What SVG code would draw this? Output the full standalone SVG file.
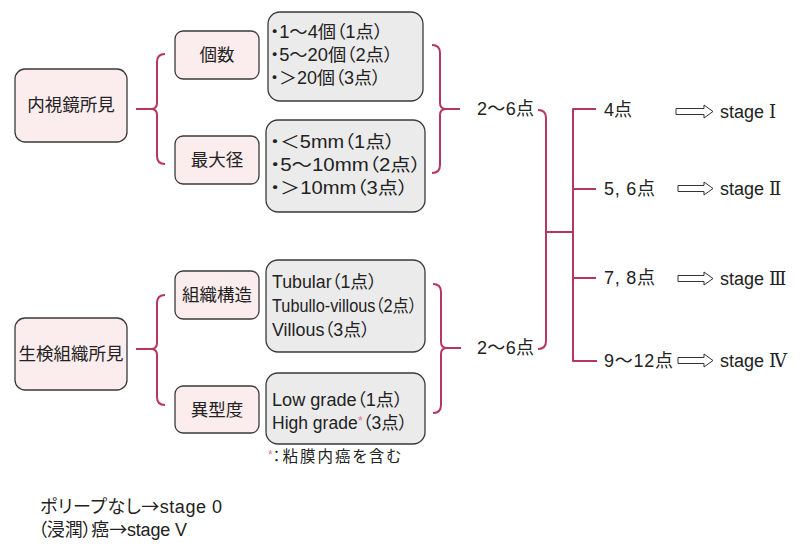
<svg xmlns="http://www.w3.org/2000/svg" width="800" height="551" viewBox="0 0 800 551">
<style>
text{font-family:"Liberation Sans","Noto Sans CJK JP",sans-serif;fill:#222;font-feature-settings:"palt";}
.t17{font-size:17.5px;font-family:"Noto Sans CJK JP",sans-serif;}
.t18{font-size:18px;}
.g{font-size:17.5px;}
.c{text-anchor:middle;}
.pink{fill:#fbecee;stroke:#3a3a3a;stroke-width:1.3;}
.gray{fill:#ebebeb;stroke:#3a3a3a;stroke-width:1.3;}
.br{fill:none;stroke:#b5375e;stroke-width:2;stroke-linejoin:round;}
.arr{fill:#fff;stroke:#333;stroke-width:1;}
.ast{fill:#e07a9a;}
.rn{font-family:"DejaVu Serif","Noto Sans CJK JP",serif;}
.ja{font-family:"Noto Sans CJK JP",sans-serif;}
</style>
<rect width="800" height="551" fill="#fff"/>

<g id="connectors">
  <path class="br" d="M136,109 L151,109 M165,54 Q157,54 157,62 L157,103 Q157,109 151,109 Q157,109 157,115 L157,156 Q157,164 165,164"/>
  <path class="br" d="M136,349 L151,349 M165,295 Q157,295 157,303 L157,343 Q157,349 151,349 Q157,349 157,355 L157,397 Q157,405 165,405"/>
  <path class="br" d="M460,109 L446,109 M432,45 Q440,45 440,53 L440,103 Q440,109 446,109 Q440,109 440,115 L440,165 Q440,173 432,173"/>
  <path class="br" d="M461,348 L447,348 M433,284 Q441,284 441,292 L441,342 Q441,348 447,348 Q441,348 441,354 L441,405 Q441,413 433,413"/>
  <path class="br" d="M538,110 Q546,110 546,118 L546,341 Q546,349 538,349 M546,232 L573,232 M596,109 L573,109 L573,361 L597,361 M573,189 L596,189 M573,278 L596,278"/>
</g>

<g id="endoscopy">
  <rect class="pink" x="15" y="69" width="112" height="73" rx="10"/>
  <text class="t17 c" x="71" y="111">内視鏡所見</text>
</g>
<g id="count">
  <rect class="pink" x="175" y="31" width="84" height="48" rx="8"/>
  <text class="t17 c" x="217" y="61">個数</text>
</g>
<g id="maxsize">
  <rect class="pink" x="175" y="136" width="84" height="48" rx="8"/>
  <text class="t17 c" x="217" y="166">最大径</text>
</g>
<g id="count-options">
  <rect class="gray" x="268" y="12" width="155" height="89" rx="12"/>
  <text class="g"><tspan x="270" y="38" textLength="113" lengthAdjust="spacingAndGlyphs">・1〜4個（1点）</tspan><tspan x="270" y="61" textLength="123" lengthAdjust="spacingAndGlyphs">・5〜20個（2点）</tspan><tspan x="270" y="84" textLength="111" lengthAdjust="spacingAndGlyphs">・＞20個（3点）</tspan></text>
</g>
<g id="size-options">
  <rect class="gray" x="266" y="120" width="159" height="92" rx="12"/>
  <text class="g"><tspan x="270" y="148" textLength="125" lengthAdjust="spacingAndGlyphs">・＜5mm（1点）</tspan><tspan x="270" y="171" textLength="151" lengthAdjust="spacingAndGlyphs">・5〜10mm（2点）</tspan><tspan x="270" y="194" textLength="138" lengthAdjust="spacingAndGlyphs">・＞10mm（3点）</tspan></text>
</g>

<g id="biopsy">
  <rect class="pink" x="15" y="318" width="112" height="72" rx="10"/>
  <text class="t17 c" x="71" y="360">生検組織所見</text>
</g>
<g id="structure">
  <rect class="pink" x="175" y="271" width="84" height="48" rx="8"/>
  <text class="t17 c" x="217" y="301">組織構造</text>
</g>
<g id="atypia">
  <rect class="pink" x="175" y="386" width="84" height="47" rx="8"/>
  <text class="t17 c" x="217" y="416">異型度</text>
</g>
<g id="structure-options">
  <rect class="gray" x="266" y="260" width="159" height="92" rx="12"/>
  <text class="g"><tspan x="272" y="288" textLength="105" lengthAdjust="spacingAndGlyphs">Tubular（1点）</tspan><tspan x="272" y="312" textLength="145" lengthAdjust="spacingAndGlyphs">Tubullo-villous（2点）</tspan><tspan x="272" y="336" textLength="98" lengthAdjust="spacingAndGlyphs">Villous（3点）</tspan></text>
</g>
<g id="atypia-options">
  <rect class="gray" x="266" y="373" width="159" height="71" rx="12"/>
  <text class="g"><tspan x="272" y="406" textLength="131" lengthAdjust="spacingAndGlyphs">Low grade（1点）</tspan><tspan x="272" y="429">High grade<tspan class="ast" font-size="13" baseline-shift="4">*</tspan>（3点）</tspan></text>
</g>
<g id="note">
  <text font-size="15.5" x="268" y="462" font-family="Noto Sans CJK JP,sans-serif"><tspan class="ast" font-size="12" baseline-shift="3">*</tspan><tspan letter-spacing="2">：粘膜内癌を含む</tspan></text>
</g>

<g id="sum1"><text class="t18" x="477" y="115" textLength="57">2〜6点</text></g>
<g id="sum2"><text class="t18" x="477" y="354" textLength="57">2〜6点</text></g>

<g id="score4"><text class="t18" x="604" y="116">4点</text></g>
<g id="score56"><text class="t18" x="604" y="195" textLength="51">5, 6点</text></g>
<g id="score78"><text class="t18" x="604" y="284" textLength="51">7, 8点</text></g>
<g id="score912"><text class="t18" x="604" y="367" textLength="69">9〜12点</text></g>

<g id="arrows">
  <polygon class="arr" points="676,108.5 704,108.5 704,105 713,111.5 704,118 704,114.5 676,114.5"/>
  <polygon class="arr" points="678,185.5 704,185.5 704,182 713,188.5 704,195 704,191.5 678,191.5"/>
  <polygon class="arr" points="678,275.5 704,275.5 704,272 713,278.5 704,285 704,281.5 678,281.5"/>
  <polygon class="arr" points="678,357.5 704,357.5 704,354 713,360.5 704,367 704,363.5 678,363.5"/>
</g>
<g id="stage1"><text class="t18" x="720" y="118">stage <tspan class="rn">Ⅰ</tspan></text></g>
<g id="stage2"><text class="t18" x="720" y="195">stage <tspan class="rn">Ⅱ</tspan></text></g>
<g id="stage3"><text class="t18" x="720" y="285">stage <tspan class="rn">Ⅲ</tspan></text></g>
<g id="stage4"><text class="t18" x="720" y="367">stage <tspan class="rn">Ⅳ</tspan></text></g>

<g id="footer">
  <text class="t18"><tspan x="40" y="513" textLength="182">ポリープなし<tspan class="ja">→</tspan>stage 0</tspan><tspan x="38" y="536" textLength="149">（浸潤）癌<tspan class="ja">→</tspan>stage V</tspan></text>
</g>
</svg>
